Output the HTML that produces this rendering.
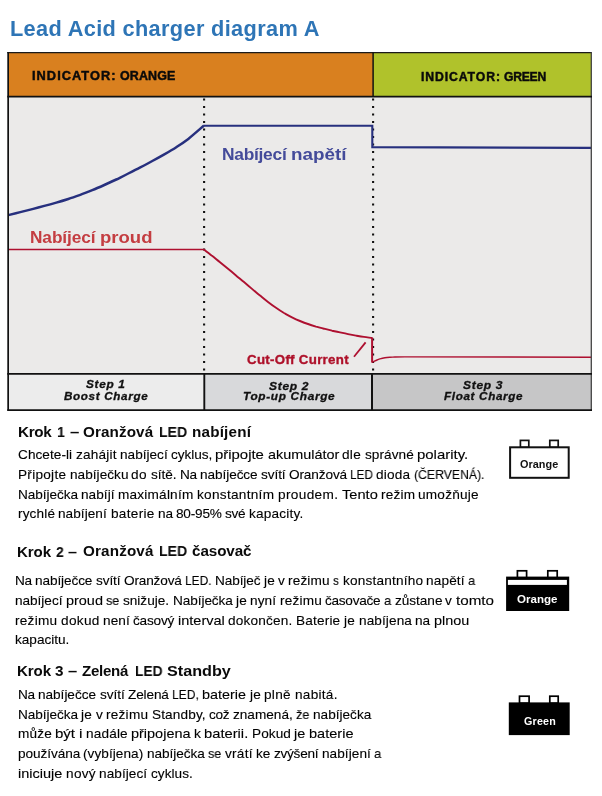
<!DOCTYPE html>
<html lang="cs">
<head>
<meta charset="utf-8">
<title>Lead Acid charger diagram A</title>
<style>
html,body{margin:0;padding:0;background:#fff;}
body{width:602px;height:796px;position:relative;overflow:hidden;font-family:"Liberation Sans",sans-serif;}
.t{position:absolute;white-space:nowrap;line-height:1;transform-origin:0 0;will-change:transform;font-family:"Liberation Sans",sans-serif;font-weight:normal;font-style:normal;}
.b{font-weight:bold;}
.i{font-style:italic;}
p.ln{margin:0;font-size:13.62px;color:#000000;-webkit-text-stroke:0.12px #000000;}
svg{position:absolute;left:0;top:0;}
</style>
</head>
<body>
<svg width="602" height="796" viewBox="0 0 602 796">
<!-- header bands -->
<rect x="8" y="52" width="365" height="45" fill="#d9801f"/>
<rect x="373" y="52" width="218.5" height="45" fill="#b0c22b"/>
<!-- chart area -->
<rect x="8" y="97" width="583.5" height="277" fill="#ebeae9"/>
<!-- step row -->
<rect x="8" y="374" width="196.3" height="36" fill="#ececec"/>
<rect x="204.3" y="374" width="168" height="36" fill="#d8d9db"/>
<rect x="372" y="374" width="219.5" height="36" fill="#c6c6c7"/>
<!-- dotted guides -->
<line x1="204.1" y1="98.4" x2="204.1" y2="371" stroke="#111" stroke-width="2.1" stroke-dasharray="2.1 5.4"/>
<line x1="373.1" y1="98.4" x2="373.1" y2="371" stroke="#111" stroke-width="2.1" stroke-dasharray="2.1 5.4"/>
<!-- curves -->
<path d="M8.3,215.1 C10.3,214.6 16.3,213.1 20.3,212.1 C24.3,211.1 28.3,210.1 32.3,209.1 C36.3,208.0 40.3,207.0 44.3,205.9 C48.3,204.9 52.3,203.8 56.3,202.6 C60.3,201.5 64.3,200.3 68.3,199.0 C72.3,197.7 76.3,196.3 80.3,194.9 C84.3,193.4 88.3,191.8 92.3,190.2 C96.3,188.6 100.3,186.8 104.3,185.0 C108.3,183.2 112.3,181.4 116.3,179.5 C120.3,177.5 124.3,175.6 128.3,173.5 C132.3,171.5 136.3,169.5 140.3,167.4 C144.3,165.3 148.3,163.2 152.3,161.0 C156.3,158.9 160.3,156.7 164.3,154.4 C168.3,152.1 172.3,149.8 176.3,147.2 C180.3,144.6 183.7,142.4 188.3,138.9 C192.9,135.3 201.2,127.9 203.8,125.7" fill="none" stroke="#27307e" stroke-width="2.5" stroke-linejoin="miter"/>
<path d="M203.2,125.7 L372.3,125.7 L372.3,147.3 L440,147.4 L591,147.9" fill="none" stroke="#27307e" stroke-width="2.1" stroke-linejoin="miter"/>
<line x1="8.5" y1="249.5" x2="204.3" y2="249.5" stroke="#ae1030" stroke-width="1.3"/>
<path d="M204.0,249.5 C205.3,250.6 209.3,253.7 212.0,255.8 C214.7,257.9 217.3,260.1 220.0,262.2 C222.7,264.4 225.3,266.6 228.0,268.8 C230.7,271.0 233.3,273.2 236.0,275.4 C238.7,277.6 241.3,279.9 244.0,282.1 C246.7,284.4 249.3,286.6 252.0,288.9 C254.7,291.1 257.3,293.4 260.0,295.6 C262.7,297.8 265.3,300.0 268.0,302.0 C270.7,304.1 273.3,306.0 276.0,307.8 C278.7,309.7 281.3,311.4 284.0,313.0 C286.7,314.5 289.3,316.0 292.0,317.3 C294.7,318.7 297.3,319.9 300.0,321.0 C302.7,322.1 305.3,323.1 308.0,324.0 C310.7,325.0 313.3,325.8 316.0,326.6 C318.7,327.3 321.3,328.1 324.0,328.7 C326.7,329.4 329.3,330.0 332.0,330.7 C334.7,331.3 337.3,331.9 340.0,332.4 C342.7,333.0 345.3,333.6 348.0,334.1 C350.7,334.7 353.3,335.2 356.0,335.6 C358.7,336.1 361.3,336.6 364.0,336.9 C366.7,337.3 370.8,337.8 372.1,338.0" fill="none" stroke="#ae1030" stroke-width="1.9" stroke-linejoin="round"/>
<line x1="372.1" y1="337.4" x2="372.1" y2="362.6" stroke="#ae1030" stroke-width="2"/>
<path d="M372.1,362.1 C372.6,361.9 373.6,361.4 374.9,360.9 C376.2,360.4 378.2,359.4 379.9,358.9 C381.6,358.4 383.2,358.0 384.9,357.7 C386.6,357.4 388.2,357.3 389.9,357.2 C391.6,357.1 392.4,357.1 394.9,357.0 C397.4,356.9 403.1,356.9 404.8,356.9 L591,357.2" fill="none" stroke="#ae1030" stroke-width="1.4"/>
<line x1="354" y1="356.7" x2="365.6" y2="342.4" stroke="#ae1030" stroke-width="1.8"/>
<!-- frame lines -->
<line x1="7.3" y1="52.7" x2="592" y2="52.7" stroke="#1a1a1a" stroke-width="1.3"/>
<line x1="8.15" y1="52" x2="8.15" y2="410.8" stroke="#111" stroke-width="1.7"/>
<line x1="591.3" y1="52" x2="591.3" y2="410.8" stroke="#444" stroke-width="1.3"/>
<line x1="7.3" y1="96.6" x2="592" y2="96.6" stroke="#111" stroke-width="1.7"/>
<line x1="373.1" y1="52" x2="373.1" y2="97" stroke="#111" stroke-width="1.5"/>
<line x1="7.3" y1="373.85" x2="592" y2="373.85" stroke="#111" stroke-width="1.9"/>
<line x1="7.3" y1="410.1" x2="592" y2="410.1" stroke="#111" stroke-width="1.8"/>
<line x1="204.3" y1="374" x2="204.3" y2="410" stroke="#111" stroke-width="1.9"/>
<line x1="372" y1="374" x2="372" y2="410" stroke="#111" stroke-width="2"/>
<!-- battery 1 (outline) -->
<g fill="#fff" stroke="#111">
<rect x="520.4" y="440.4" width="8.4" height="7" stroke-width="1.7"/>
<rect x="549.8" y="440.4" width="8.4" height="7" stroke-width="1.7"/>
<rect x="510.1" y="447.3" width="58.6" height="30.5" stroke-width="2"/>
</g>
<!-- battery 2 (filled with strip) -->
<g fill="#fff" stroke="#000">
<rect x="517.4" y="570.8" width="9.2" height="7" stroke-width="1.7"/>
<rect x="547.8" y="570.8" width="9.4" height="7" stroke-width="1.7"/>
</g>
<rect x="506.1" y="576.6" width="63.1" height="34.4" fill="#000"/>
<rect x="507.9" y="579.9" width="59" height="5" fill="#fff"/>
<!-- battery 3 (filled) -->
<g fill="#fff" stroke="#000">
<rect x="519.5" y="696.2" width="9.6" height="7" stroke-width="1.7"/>
<rect x="549.8" y="696.2" width="8.4" height="7" stroke-width="1.7"/>
</g>
<rect x="508.8" y="702.4" width="60.9" height="32.7" fill="#000"/>
</svg>
<div class="t b" style="left:9.70px;top:18.03px;font-size:21.74px;color:#2e75b6;letter-spacing:0.346px">Lead Acid charger diagram A</div>
<div class="t b" style="left:31.97px;top:70.37px;font-size:12.46px;color:#0a0a0a;-webkit-text-stroke:0.45px #0a0a0a;letter-spacing:1.0px;transform:scaleX(1.0278)">INDICATOR:</div>
<div class="t b" style="left:119.90px;top:70.37px;font-size:12.46px;color:#0a0a0a;-webkit-text-stroke:0.45px #0a0a0a;letter-spacing:0.120px">ORANGE</div>
<div class="t b" style="left:420.99px;top:70.61px;font-size:12.17px;color:#0a0a0a;-webkit-text-stroke:0.45px #0a0a0a;letter-spacing:0.9px;transform:scaleX(1.0052)">INDICATOR:</div>
<div class="t b" style="left:504.20px;top:70.61px;font-size:12.17px;color:#0a0a0a;-webkit-text-stroke:0.45px #0a0a0a;letter-spacing:-0.250px">GREEN</div>
<div class="t b" style="left:221.50px;top:146.10px;font-size:17.39px;color:#444b9a;letter-spacing:-0.271px">Nabíjecí</div>
<div class="t b" style="left:291.22px;top:146.10px;font-size:17.39px;color:#444b9a;transform:scaleX(1.0840)">napětí</div>
<div class="t b" style="left:29.50px;top:229.43px;font-size:17.25px;color:#c43d41;letter-spacing:-0.086px">Nabíjecí</div>
<div class="t b" style="left:99.83px;top:229.43px;font-size:17.25px;color:#c43d41;transform:scaleX(1.0745)">proud</div>
<div class="t b" style="left:246.90px;top:352.66px;font-size:13.19px;color:#ae1029;-webkit-text-stroke:0.35px #ae1029;letter-spacing:0.3px;transform:scaleX(1.0069)">Cut-Off Current</div>
<div class="t b i" style="left:85.50px;top:380.08px;font-size:10.43px;color:#111111;-webkit-text-stroke:0.3px #111111;letter-spacing:0.6px;transform:scaleX(1.1353)">Step 1</div>
<div class="t b i" style="left:63.60px;top:391.68px;font-size:10.43px;color:#111111;-webkit-text-stroke:0.3px #111111;letter-spacing:0.6px;transform:scaleX(1.1160)">Boost Charge</div>
<div class="t b i" style="left:268.90px;top:381.68px;font-size:10.43px;color:#111111;-webkit-text-stroke:0.3px #111111;letter-spacing:0.6px;transform:scaleX(1.1529)">Step 2</div>
<div class="t b i" style="left:242.87px;top:392.48px;font-size:10.43px;color:#111111;-webkit-text-stroke:0.3px #111111;letter-spacing:0.6px;transform:scaleX(1.1325)">Top-up Charge</div>
<div class="t b i" style="left:462.90px;top:381.08px;font-size:10.43px;color:#111111;-webkit-text-stroke:0.3px #111111;letter-spacing:0.6px;transform:scaleX(1.1529)">Step 3</div>
<div class="t b i" style="left:443.50px;top:391.68px;font-size:10.43px;color:#111111;-webkit-text-stroke:0.3px #111111;letter-spacing:0.6px;transform:scaleX(1.1171)">Float Charge</div>
<div class="t b" style="left:18.10px;top:423.74px;font-size:15.22px;color:#0a0a0a;letter-spacing:-0.333px">Krok</div>
<div class="t b" style="left:56.56px;top:423.74px;font-size:15.22px;color:#0a0a0a;transform:scaleX(0.9300)">1</div>
<div class="t b" style="left:69.65px;top:423.74px;font-size:15.22px;color:#0a0a0a;transform:scaleX(1.1000)">–</div>
<div class="t b" style="left:82.90px;top:423.74px;font-size:15.22px;color:#0a0a0a;letter-spacing:0.114px">Oranžová</div>
<div class="t b" style="left:158.88px;top:423.74px;font-size:15.22px;color:#0a0a0a;transform:scaleX(0.9241)">LED</div>
<div class="t b" style="left:191.60px;top:423.74px;font-size:15.22px;color:#0a0a0a;letter-spacing:0.200px">nabíjení</div>
<p class="ln"><span class="t" style="left:17.90px;top:448.19px;letter-spacing:0.054px">Chcete-li</span> <span class="t" style="left:75.51px;top:448.19px;letter-spacing:0.184px">zahájit</span> <span class="t" style="left:119.57px;top:448.19px;letter-spacing:0.003px">nabíjecí</span> <span class="t" style="left:170.70px;top:448.19px;letter-spacing:-0.043px">cyklus,</span> <span class="t" style="left:215.41px;top:448.19px;transform:scaleX(1.0955)">připojte</span> <span class="t" style="left:267.74px;top:448.19px;transform:scaleX(1.0582)">akumulátor</span> <span class="t" style="left:342.41px;top:448.19px;letter-spacing:0.268px">dle</span> <span class="t" style="left:364.81px;top:448.19px;letter-spacing:0.049px">správné</span> <span class="t" style="left:417.00px;top:448.19px;transform:scaleX(1.0973)">polarity.</span></p>
<p class="ln"><span class="t" style="left:17.90px;top:467.99px;letter-spacing:0.267px">Připojte</span> <span class="t" style="left:69.58px;top:467.99px;letter-spacing:0.024px">nabíječku</span> <span class="t" style="left:131.46px;top:467.99px;letter-spacing:0.325px">do</span> <span class="t" style="left:150.64px;top:467.99px;letter-spacing:-0.027px">sítě.</span> <span class="t" style="left:179.61px;top:467.99px;letter-spacing:-0.269px">Na</span> <span class="t" style="left:199.87px;top:467.99px;letter-spacing:-0.075px">nabíječce</span> <span class="t" style="left:260.85px;top:467.99px;letter-spacing:-0.080px">svítí</span> <span class="t" style="left:288.80px;top:467.99px;letter-spacing:-0.124px">Oranžová</span> <span class="t" style="left:350.21px;top:467.99px;transform:scaleX(0.8631)">LED</span> <span class="t" style="left:376.46px;top:467.99px;letter-spacing:0.197px">dioda</span> <span class="t" style="left:414.15px;top:467.99px;transform:scaleX(0.8998)">(ČERVENÁ).</span></p>
<p class="ln"><span class="t" style="left:17.90px;top:487.69px;letter-spacing:-0.069px">Nabíječka</span> <span class="t" style="left:81.22px;top:487.69px;letter-spacing:0.051px">nabíjí</span> <span class="t" style="left:118.23px;top:487.69px;letter-spacing:0.207px">maximálním</span> <span class="t" style="left:197.07px;top:487.69px;letter-spacing:0.288px">konstantním</span> <span class="t" style="left:277.79px;top:487.69px;letter-spacing:0.355px">proudem.</span> <span class="t" style="left:341.54px;top:487.69px;transform:scaleX(1.0746)">Tento</span> <span class="t" style="left:380.73px;top:487.69px;letter-spacing:0.189px">režim</span> <span class="t" style="left:418.36px;top:487.69px;letter-spacing:0.228px">umožňuje</span></p>
<p class="ln"><span class="t" style="left:17.90px;top:507.39px;letter-spacing:0.144px">rychlé</span> <span class="t" style="left:58.47px;top:507.39px;letter-spacing:0.045px">nabíjení</span> <span class="t" style="left:110.66px;top:507.39px;letter-spacing:0.299px">baterie</span> <span class="t" style="left:157.77px;top:507.39px;letter-spacing:-0.032px">na</span> <span class="t" style="left:176.24px;top:507.39px;letter-spacing:-0.194px">80-95%</span> <span class="t" style="left:225.39px;top:507.39px;letter-spacing:-0.356px">své</span> <span class="t" style="left:248.91px;top:507.39px;letter-spacing:0.199px">kapacity.</span></p>
<div class="t b" style="left:16.60px;top:544.16px;font-size:15.07px;color:#0a0a0a;letter-spacing:-0.067px">Krok</div>
<div class="t b" style="left:55.73px;top:544.16px;font-size:15.07px;color:#0a0a0a;transform:scaleX(0.9300)">2</div>
<div class="t b" style="left:67.90px;top:544.16px;font-size:15.07px;color:#0a0a0a;transform:scaleX(1.0750)">–</div>
<div class="t b" style="left:82.60px;top:542.84px;font-size:15.22px;color:#0a0a0a;letter-spacing:0.157px">Oranžová</div>
<div class="t b" style="left:158.88px;top:542.84px;font-size:15.22px;color:#0a0a0a;transform:scaleX(0.9241)">LED</div>
<div class="t b" style="left:192.10px;top:542.84px;font-size:15.22px;color:#0a0a0a;letter-spacing:-0.083px">časovač</div>
<p class="ln"><span class="t" style="left:15.30px;top:573.99px;letter-spacing:-0.308px">Na</span> <span class="t" style="left:35.46px;top:573.99px;letter-spacing:-0.105px">nabíječce</span> <span class="t" style="left:96.16px;top:573.99px;letter-spacing:-0.103px">svítí</span> <span class="t" style="left:123.98px;top:573.99px;letter-spacing:-0.158px">Oranžová</span> <span class="t" style="left:185.11px;top:573.99px;transform:scaleX(0.8763)">LED.</span> <span class="t" style="left:215.00px;top:573.99px;letter-spacing:-0.112px">Nabíječ</span> <span class="t" style="left:263.75px;top:573.99px;letter-spacing:0.204px">je</span> <span class="t" style="left:278.13px;top:573.99px;transform:scaleX(0.9899)">v</span> <span class="t" style="left:288.25px;top:573.99px;letter-spacing:0.148px">režimu</span> <span class="t" style="left:333.35px;top:573.99px;transform:scaleX(0.8572)">s</span> <span class="t" style="left:342.57px;top:573.99px;letter-spacing:0.200px">konstantního</span> <span class="t" style="left:426.28px;top:573.99px;letter-spacing:0.142px">napětí</span> <span class="t" style="left:468.35px;top:573.99px;transform:scaleX(0.9437)">a</span></p>
<p class="ln"><span class="t" style="left:15.30px;top:593.79px;letter-spacing:-0.033px">nabíjecí</span> <span class="t" style="left:66.12px;top:593.79px;transform:scaleX(1.0607)">proud</span> <span class="t" style="left:106.45px;top:593.79px;transform:scaleX(0.9309)">se</span> <span class="t" style="left:123.23px;top:593.79px;letter-spacing:-0.018px">snižuje.</span> <span class="t" style="left:172.65px;top:593.79px;letter-spacing:-0.079px">Nabíječka</span> <span class="t" style="left:235.88px;top:593.79px;letter-spacing:0.251px">je</span> <span class="t" style="left:250.38px;top:593.79px;letter-spacing:0.090px">nyní</span> <span class="t" style="left:279.88px;top:593.79px;letter-spacing:0.207px">režimu</span> <span class="t" style="left:325.37px;top:593.79px;letter-spacing:-0.277px">časovače</span> <span class="t" style="left:384.06px;top:593.79px;transform:scaleX(0.9518)">a</span> <span class="t" style="left:394.68px;top:593.79px;letter-spacing:-0.037px">zůstane</span> <span class="t" style="left:445.49px;top:593.79px;transform:scaleX(0.9984)">v</span> <span class="t" style="left:455.70px;top:593.79px;transform:scaleX(1.1161)">tomto</span></p>
<p class="ln"><span class="t" style="left:15.30px;top:613.79px;letter-spacing:0.241px">režimu</span> <span class="t" style="left:61.01px;top:613.79px;letter-spacing:0.323px">dokud</span> <span class="t" style="left:103.14px;top:613.79px;letter-spacing:0.100px">není</span> <span class="t" style="left:133.47px;top:613.79px;letter-spacing:-0.189px">časový</span> <span class="t" style="left:178.11px;top:613.79px;transform:scaleX(1.0678)">interval</span> <span class="t" style="left:228.39px;top:613.79px;letter-spacing:0.180px">dokončen.</span> <span class="t" style="left:296.24px;top:613.79px;letter-spacing:0.176px">Baterie</span> <span class="t" style="left:344.02px;top:613.79px;letter-spacing:0.278px">je</span> <span class="t" style="left:358.59px;top:613.79px;letter-spacing:0.094px">nabíjena</span> <span class="t" style="left:414.98px;top:613.79px;letter-spacing:0.029px">na</span> <span class="t" style="left:433.60px;top:613.79px;transform:scaleX(1.0597)">plnou</span></p>
<p class="ln"><span class="t" style="left:15.30px;top:632.89px;letter-spacing:-0.009px">kapacitu.</span></p>
<div class="t b" style="left:16.60px;top:663.16px;font-size:15.07px;color:#0a0a0a;letter-spacing:-0.067px">Krok</div>
<div class="t b" style="left:54.79px;top:663.16px;font-size:15.07px;color:#0a0a0a;transform:scaleX(1.0143)">3</div>
<div class="t b" style="left:68.45px;top:663.16px;font-size:15.07px;color:#0a0a0a;transform:scaleX(1.1000)">–</div>
<div class="t b" style="left:82.40px;top:663.16px;font-size:15.07px;color:#0a0a0a;letter-spacing:-0.280px">Zelená</div>
<div class="t b" style="left:134.69px;top:663.16px;font-size:15.07px;color:#0a0a0a;transform:scaleX(0.9138)">LED</div>
<div class="t b" style="left:166.93px;top:663.16px;font-size:15.07px;color:#0a0a0a;transform:scaleX(1.0741)">Standby</div>
<p class="ln"><span class="t" style="left:17.90px;top:687.59px;letter-spacing:-0.208px">Na</span> <span class="t" style="left:38.31px;top:687.59px;letter-spacing:-0.028px">nabíječce</span> <span class="t" style="left:99.73px;top:687.59px;letter-spacing:-0.045px">svítí</span> <span class="t" style="left:127.88px;top:687.59px;letter-spacing:-0.145px">Zelená</span> <span class="t" style="left:172.05px;top:687.59px;transform:scaleX(0.8853)">LED,</span> <span class="t" style="left:202.26px;top:687.59px;transform:scaleX(1.0572)">baterie</span> <span class="t" style="left:249.68px;top:687.59px;letter-spacing:0.269px">je</span> <span class="t" style="left:264.23px;top:687.59px;letter-spacing:0.282px">plně</span> <span class="t" style="left:294.51px;top:687.59px;letter-spacing:0.260px">nabitá.</span></p>
<p class="ln"><span class="t" style="left:17.90px;top:707.89px;letter-spacing:-0.051px">Nabíječka</span> <span class="t" style="left:81.39px;top:707.89px;letter-spacing:0.274px">je</span> <span class="t" style="left:95.95px;top:707.89px;transform:scaleX(1.0026)">v</span> <span class="t" style="left:106.20px;top:707.89px;letter-spacing:0.237px">režimu</span> <span class="t" style="left:151.89px;top:707.89px;letter-spacing:0.124px">Standby,</span> <span class="t" style="left:209.02px;top:707.89px;letter-spacing:-0.282px">což</span> <span class="t" style="left:232.78px;top:707.89px;letter-spacing:-0.007px">znamená,</span> <span class="t" style="left:295.92px;top:707.89px;transform:scaleX(0.9390)">že</span> <span class="t" style="left:312.84px;top:707.89px;letter-spacing:-0.001px">nabíječka</span></p>
<p class="ln"><span class="t" style="left:17.90px;top:727.29px;letter-spacing:0.142px">může</span> <span class="t" style="left:55.20px;top:727.29px;transform:scaleX(1.1043)">být</span> <span class="t" style="left:78.70px;top:727.29px;transform:scaleX(1.1561)">i</span> <span class="t" style="left:85.66px;top:727.29px;letter-spacing:0.150px">nadále</span> <span class="t" style="left:130.89px;top:727.29px;transform:scaleX(1.0628)">připojena</span> <span class="t" style="left:193.86px;top:727.29px;transform:scaleX(1.0190)">k</span> <span class="t" style="left:204.25px;top:727.29px;transform:scaleX(1.0827)">baterii.</span> <span class="t" style="left:251.94px;top:727.29px;letter-spacing:0.067px">Pokud</span> <span class="t" style="left:294.32px;top:727.29px;transform:scaleX(1.0621)">je</span> <span class="t" style="left:309.02px;top:727.29px;transform:scaleX(1.0685)">baterie</span></p>
<p class="ln"><span class="t" style="left:17.90px;top:747.19px;letter-spacing:-0.069px">používána</span> <span class="t" style="left:83.49px;top:747.19px;letter-spacing:0.046px">(vybíjena)</span> <span class="t" style="left:147.12px;top:747.19px;letter-spacing:-0.040px">nabíječka</span> <span class="t" style="left:208.42px;top:747.19px;transform:scaleX(0.9292)">se</span> <span class="t" style="left:225.18px;top:747.19px;letter-spacing:0.249px">vrátí</span> <span class="t" style="left:256.29px;top:747.19px;letter-spacing:-0.032px">ke</span> <span class="t" style="left:274.00px;top:747.19px;letter-spacing:-0.272px">zvýšení</span> <span class="t" style="left:321.64px;top:747.19px;letter-spacing:0.054px">nabíjení</span> <span class="t" style="left:373.90px;top:747.19px;transform:scaleX(0.9501)">a</span></p>
<p class="ln"><span class="t" style="left:17.90px;top:766.99px;transform:scaleX(1.0672)">iniciuje</span> <span class="t" style="left:65.77px;top:766.99px;letter-spacing:0.307px">nový</span> <span class="t" style="left:99.21px;top:766.99px;letter-spacing:0.070px">nabíjecí</span> <span class="t" style="left:150.90px;top:766.99px;letter-spacing:0.029px">cyklus.</span></p>
<div class="t b" style="left:519.90px;top:458.52px;font-size:10.87px;color:#111111;letter-spacing:0.040px">Orange</div>
<div class="t b" style="left:517.40px;top:594.88px;font-size:10.43px;color:#ffffff;transform:scaleX(1.1083)">Orange</div>
<div class="t b" style="left:523.70px;top:715.84px;font-size:10.72px;color:#ffffff;letter-spacing:0.200px">Green</div>
</body>
</html>
